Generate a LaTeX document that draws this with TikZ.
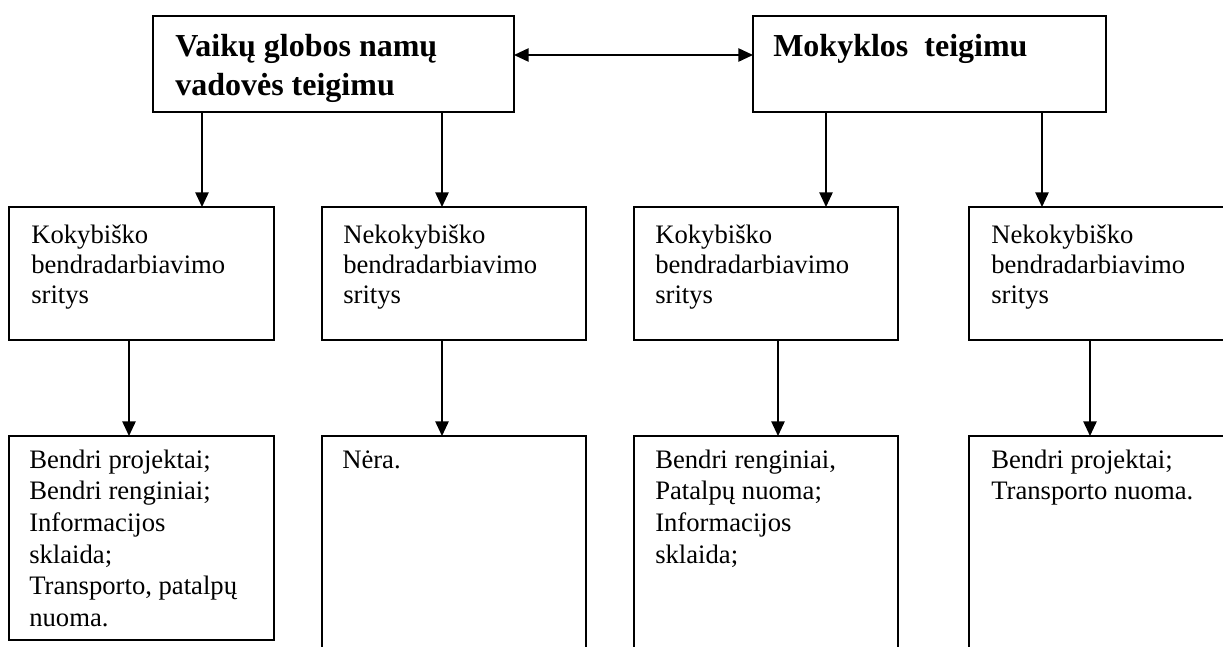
\documentclass[tikz,border=0pt]{standalone}
\usepackage{fontspec}
\setmainfont{Liberation Serif}
\usetikzlibrary{arrows.meta}
\tikzset{
  boxst/.style={draw=black, line width=1.5pt, rectangle, inner sep=0pt, outer sep=0pt, anchor=north west},
  arr/.style={line width=1.2pt, -{Triangle[length=11pt,width=10pt]}},
  dblarr/.style={line width=1.2pt, {Triangle[length=11pt,width=10pt]}-{Triangle[length=11pt,width=10pt]}},
  headtxt/.style={inner sep=0pt, anchor=base west, font=\fontsize{24}{29.5}\selectfont\bfseries},
  midtxt/.style={inner sep=0pt, anchor=base west, font=\fontsize{20}{22.7}\selectfont},
  bottxt/.style={inner sep=0pt, anchor=base west, font=\fontsize{20}{23.8}\selectfont},
}
\newcommand\mybox[5]{\node[boxst, minimum width=#4*0.75pt, minimum height=#5*0.75pt] (#1) at (#2,#3) {};}
\begin{document}
\begin{tikzpicture}[x=0.75pt, y=-0.75pt]
\useasboundingbox (0,0) rectangle (1223,646);
\clip (0,0) rectangle (1223,646);
\fill[white] (0,0) rectangle (1223,646);
% top boxes
\mybox{tl}{153}{16}{361}{96}
\mybox{tr}{753}{16}{353}{96}
% middle boxes
\mybox{m1}{9}{207}{265}{133}
\mybox{m2}{322}{207}{264}{133}
\mybox{m3}{634}{207}{264}{133}
\mybox{m4}{969}{207}{265}{133}
% bottom boxes
\mybox{b1}{9}{436}{265}{204}
\mybox{b2}{322}{436}{264}{230}
\mybox{b3}{634}{436}{264}{230}
\mybox{b4}{969}{436}{265}{230}
% texts
\node[headtxt] (ttl) at (175,56) {\parbox[t]{400pt}{\raggedright Vaikų globos namų\\vadovės teigimu}};
\node[headtxt] (ttr) at (773,56) {Mokyklos~~teigimu};
\node[midtxt] (tm1) at (31,243) {\parbox[t]{200pt}{\raggedright Kokybiško\\bendradarbiavimo\\sritys}};
\node[midtxt] (tm2) at (343,243) {\parbox[t]{200pt}{\raggedright Nekokybiško\\bendradarbiavimo\\sritys}};
\node[midtxt] (tm3) at (655,243) {\parbox[t]{200pt}{\raggedright Kokybiško\\bendradarbiavimo\\sritys}};
\node[midtxt] (tm4) at (991,243) {\parbox[t]{200pt}{\raggedright Nekokybiško\\bendradarbiavimo\\sritys}};
\node[bottxt] (tb1) at (29,468) {\parbox[t]{200pt}{\raggedright Bendri projektai;\\Bendri renginiai;\\Informacijos\\sklaida;\\Transporto, patalpų\\nuoma.}};
\node[bottxt] (tb2) at (342,468) {Nėra.};
\node[bottxt] (tb3) at (655,468) {\parbox[t]{200pt}{\raggedright Bendri renginiai,\\Patalpų nuoma;\\Informacijos\\sklaida;}};
\node[bottxt] (tb4) at (991,468) {\parbox[t]{200pt}{\raggedright Bendri projektai;\\Transporto nuoma.}};
% connectors
\draw[dblarr] (tl.east |- 0,55) -- (tr.west |- 0,55);
\draw[arr] (tl.south -| 202,0) -- (m1.north -| 202,0);
\draw[arr] (tl.south -| 442,0) -- (m2.north -| 442,0);
\draw[arr] (tr.south -| 826,0) -- (m3.north -| 826,0);
\draw[arr] (tr.south -| 1042,0) -- (m4.north -| 1042,0);
\draw[arr] (m1.south -| 129,0) -- (b1.north -| 129,0);
\draw[arr] (m2.south -| 442,0) -- (b2.north -| 442,0);
\draw[arr] (m3.south -| 778,0) -- (b3.north -| 778,0);
\draw[arr] (m4.south -| 1090,0) -- (b4.north -| 1090,0);
\end{tikzpicture}
\end{document}
